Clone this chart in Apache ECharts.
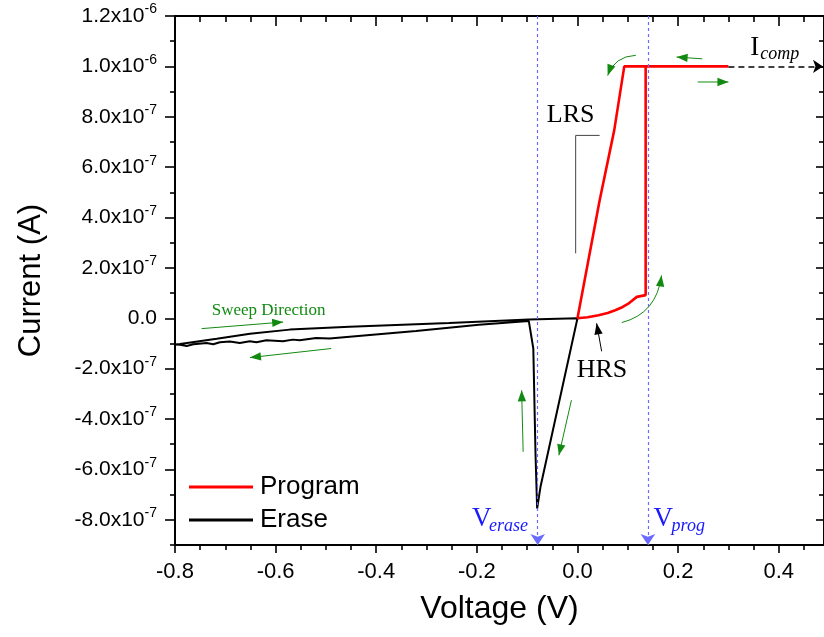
<!DOCTYPE html>
<html>
<head>
<meta charset="utf-8">
<script src="https://cdn.jsdelivr.net/npm/echarts@6/dist/echarts.min.js"></script>
<style>
html, body { margin: 0; padding: 0; background: #fff; }
#chart { width: 824px; height: 637px; }
</style>
</head>
<body>
<div id="chart"></div>
<script>
// tick positions
var xTicks = [-0.8, -0.6, -0.4, -0.2, 0, 0.2, 0.4]
var xMinorTicks = [-0.75, -0.7, -0.65, -0.55, -0.5, -0.45, -0.35, -0.3, -0.25, -0.15, -0.1, -0.05,
  0.05, 0.1, 0.15, 0.25, 0.3, 0.35, 0.45]
var yTicks = [-8e-7, -6e-7, -4e-7, -2e-7, 0, 2e-7, 4e-7, 6e-7, 8e-7, 1e-6, 1.2e-6]
var yMinorTicks = [-9e-7, -7e-7, -5e-7, -3e-7, -1e-7, 1e-7, 3e-7, 5e-7, 7e-7, 9e-7, 1.1e-6]

// Program sweep: HRS -> set at Vprog -> compliance -> back along LRS
var progV = [0, 0.02, 0.042, 0.06, 0.075, 0.09, 0.101, 0.118, 0.1355, 0.1355, 0.30, 0.093, 0.073, 0.044, 0]
var progI = [0, 4e-9, 1.2e-8, 2.1e-8, 3.2e-8, 4.5e-8, 5.8e-8, 8.5e-8, 9.2e-8, 1e-6, 1e-6, 1e-6, 7.46e-7, 4.68e-7, 0]

// Erase sweep: down to Verase, back up, out to -0.8 V and back
var eraseV = [0, -0.0735, -0.0802, -0.0834, -0.0878, -0.0967, -0.196, -0.321, -0.4929, -0.5193, -0.5524,
  -0.5656, -0.5854, -0.6184, -0.6381, -0.6514, -0.6712, -0.691, -0.7108, -0.724, -0.7372, -0.7636,
  -0.7768, -0.79, -0.8, -0.79, -0.717, -0.651, -0.572, -0.453, -0.255, -0.0967, 0]
var eraseI = [0, -6.69e-7, -7.55e-7, -5.4e-7, -1.2e-7, -1.1e-8, -2.6e-8, -5.0e-8, -8.07e-8, -7.8e-8, -8.73e-8,
  -8.47e-8, -9.13e-8, -8.73e-8, -9.52e-8, -9.13e-8, -9.79e-8, -9.26e-8, -9.52e-8, -1.03e-7, -9.79e-8, -1.03e-7,
  -1.1e-7, -1.05e-7, -1.04e-7, -1.02e-7, -8.1e-8, -6.1e-8, -4.5e-8, -3.4e-8, -1.9e-8, -5e-9, 0]

var vErase = -0.079
var vProg = 0.14
var iComp = 1e-6

var xMin = -0.8, xMax = 0.49, yMin = -9e-7, yMax = 1.2e-6
var SANS = 'Liberation Sans', SERIF = 'Liberation Serif'

function pairs(xs, ys) {
  return xs.map(function (x, i) { return [x, ys[i]] })
}

function xFmt(v) {
  return Math.abs(v) < 1e-9 ? '0.0' : v.toFixed(1)
}

function yFmt(v) {
  if (Math.abs(v) < 1e-12) return '{m|0.0}'
  var e = Math.floor(Math.log10(Math.abs(v)) + 1e-9)
  var m = v / Math.pow(10, e)
  return '{m|' + m.toFixed(1) + 'x10}{e|' + e + '}'
}

function axis(gridIndex, position, min, max, ticks, len, inside, showLine) {
  return {
    type: 'value', gridIndex: gridIndex, position: position, min: min, max: max,
    splitLine: { show: false },
    axisLine: { show: showLine, onZero: false, lineStyle: { color: '#000', width: 2 } },
    axisTick: { show: true, inside: inside, length: len, customValues: ticks, lineStyle: { color: '#000', width: 1.6 } },
    axisLabel: { show: false }
  }
}

var xMain = axis(0, 'bottom', xMin, xMax, xTicks, 8, false, true)
xMain.axisLabel = {
  show: true, customValues: xTicks, formatter: xFmt, margin: 16,
  fontSize: 22, fontFamily: SANS, color: '#000'
}
xMain.name = 'Voltage (V)'
xMain.nameLocation = 'middle'
xMain.nameGap = 48
xMain.nameTextStyle = { fontSize: 32, fontFamily: SANS, color: '#000' }

var yMain = axis(0, 'left', yMin, yMax, yTicks, 10, false, true)
yMain.axisLabel = {
  show: true, customValues: yTicks, formatter: yFmt, margin: 18, color: '#000',
  rich: {
    m: { fontSize: 21, fontFamily: SANS, color: '#000', lineHeight: 27 },
    e: { fontSize: 14, fontFamily: SANS, color: '#000', lineHeight: 15, verticalAlign: 'top' }
  }
}
yMain.name = 'Current (A)'
yMain.nameLocation = 'middle'
yMain.nameGap = 128
yMain.nameTextStyle = { fontSize: 31, fontFamily: SANS, color: '#000' }

var gridBox = { left: 175, right: -2, top: 16, bottom: 92 }

var option = {
  animation: false,
  backgroundColor: '#fff',
  grid: [Object.assign({}, gridBox), Object.assign({}, gridBox)],
  xAxis: [
    xMain,
    axis(0, 'top', xMin, xMax, xTicks, 10, true, true),
    axis(1, 'bottom', xMin, xMax, xMinorTicks, 5, false, false),
    axis(1, 'top', xMin, xMax, xMinorTicks, 6, true, false)
  ],
  yAxis: [
    yMain,
    axis(0, 'right', yMin, yMax, yTicks, 8, true, true),
    axis(1, 'left', yMin, yMax, yMinorTicks, 5, false, false),
    axis(1, 'right', yMin, yMax, yMinorTicks, 5, true, false)
  ],
  legend: {
    orient: 'vertical', left: 184, top: 469, itemWidth: 64, itemHeight: 3, itemGap: 7,
    icon: 'rect', data: ['Program', 'Erase'],
    textStyle: { fontSize: 26, fontFamily: SANS, color: '#000', padding: [0, 0, 0, 2] }
  },
  series: [
    {
      name: 'Erase', type: 'line', xAxisIndex: 0, yAxisIndex: 0,
      data: pairs(eraseV, eraseI), showSymbol: false, color: '#000',
      lineStyle: { color: '#000', width: 2 },
      markLine: {
        silent: true, symbol: ['none', 'arrow'], symbolSize: 11,
        label: { show: false },
        itemStyle: { color: '#2a2aff' },
        lineStyle: { color: '#6a6aff', type: [3, 3], width: 1.2 },
        data: [
          [{ coord: [vErase, yMax] }, { coord: [vErase, yMin] }],
          [{ coord: [vProg, yMax] }, { coord: [vProg, yMin] }]
        ]
      }
    },
    {
      name: 'Program', type: 'line', xAxisIndex: 0, yAxisIndex: 0,
      data: pairs(progV, progI), showSymbol: false, color: '#ff0000',
      lineStyle: { color: '#ff0000', width: 2.6 },
      markLine: {
        silent: true, symbol: ['none', 'arrow'], symbolSize: 10,
        label: { show: false },
        itemStyle: { color: '#000' },
        lineStyle: { color: '#000', type: [6, 4], width: 1.5 },
        data: [[{ coord: [0.3, iComp] }, { coord: [0.488, iComp] }]]
      }
    }
  ]
}

var chart = echarts.init(document.getElementById('chart'))
chart.setOption(option)

// annotations in data coordinates
var greenArrows = [
  { from: [-0.747, -4.1e-8], to: [-0.585, -1.5e-8] },
  { from: [-0.4895, -1.2e-7], to: [-0.651, -1.56e-7] },
  { from: [-0.108, -5.3e-7], to: [-0.111, -2.86e-7] },
  { from: [-0.012, -3.25e-7], to: [-0.037, -5.44e-7] },
  { from: [0.248, 1.03e-6], to: [0.197, 1.037e-6] },
  { from: [0.239, 0.938e-6], to: [0.3, 0.938e-6] },
  { from: [0.116, 1.044e-6], ctrl: [0.0737, 1.04e-6], to: [0.06, 0.964e-6] },
  { from: [0.088, -1.7e-8], ctrl: [0.1575, 1.9e-8], to: [0.167, 1.7e-7] }
]

function P(c) {
  return chart.convertToPixel({ xAxisIndex: 0, yAxisIndex: 0 }, c)
}

function arrowEls(a, color, lw, head) {
  var p0 = P(a.from), p1 = P(a.to), els = [], d0 = p0
  if (a.ctrl) {
    var pc = P(a.ctrl)
    els.push({ type: 'bezierCurve', shape: { x1: p0[0], y1: p0[1], x2: p1[0], y2: p1[1], cpx1: pc[0], cpy1: pc[1] },
      style: { stroke: color, lineWidth: lw, fill: null }, z: 10 })
    d0 = pc
  } else {
    els.push({ type: 'line', shape: { x1: p0[0], y1: p0[1], x2: p1[0], y2: p1[1] },
      style: { stroke: color, lineWidth: lw }, z: 10 })
  }
  var dx = p1[0] - d0[0], dy = p1[1] - d0[1], L = Math.sqrt(dx * dx + dy * dy)
  dx /= L; dy /= L
  var bx = p1[0] - dx * head, by = p1[1] - dy * head, w = head * 0.38
  els.push({ type: 'polygon', shape: { points: [[p1[0], p1[1]], [bx - dy * w, by + dx * w], [bx + dy * w, by - dx * w]] },
    style: { fill: color }, z: 10 })
  return els
}

function txt(c, s, size, family, color, italic) {
  var p = P(c)
  return { type: 'text', x: p[0], y: p[1], z: 10,
    style: { text: s, fontSize: size, fontFamily: family, fontStyle: italic ? 'italic' : 'normal',
      fill: color, align: 'left', verticalAlign: 'middle' } }
}

var g = []
greenArrows.forEach(function (a) { g = g.concat(arrowEls(a, '#128a12', 1, 11)) })
g = g.concat(arrowEls({ from: [0.048, -1.31e-7], to: [0.038, -2e-8] }, '#000', 1, 11))

var b0 = P([0.044, 7.26e-7]), b1 = P([-0.0036, 7.26e-7]), b2 = P([-0.0036, 2.58e-7])
g.push({ type: 'polyline', shape: { points: [b0, b1, b2] }, style: { stroke: '#444', lineWidth: 1, fill: null }, z: 10 })

g.push(txt([-0.061, 8.06e-7], 'LRS', 26, SERIF, '#000'))
g.push(txt([-0.0016, -2.06e-7], 'HRS', 26, SERIF, '#000'))
g.push(txt([-0.727, 3.2e-8], 'Sweep Direction', 17, SERIF, '#128a12'))
g.push(txt([0.3436, 1.075e-6], 'I', 27, SERIF, '#000'))
g.push(txt([0.3634, 1.05e-6], 'comp', 18, SERIF, '#000', true))
g.push(txt([-0.2096, -7.98e-7], 'V', 27, SERIF, '#1a1aff'))
g.push(txt([-0.176, -8.25e-7], 'erase', 18, SERIF, '#1a1aff', true))
g.push(txt([0.151, -7.98e-7], 'V', 27, SERIF, '#1a1aff'))
g.push(txt([0.187, -8.25e-7], 'prog', 18, SERIF, '#1a1aff', true))

chart.setOption({ graphic: g })
</script>
</body>
</html>
